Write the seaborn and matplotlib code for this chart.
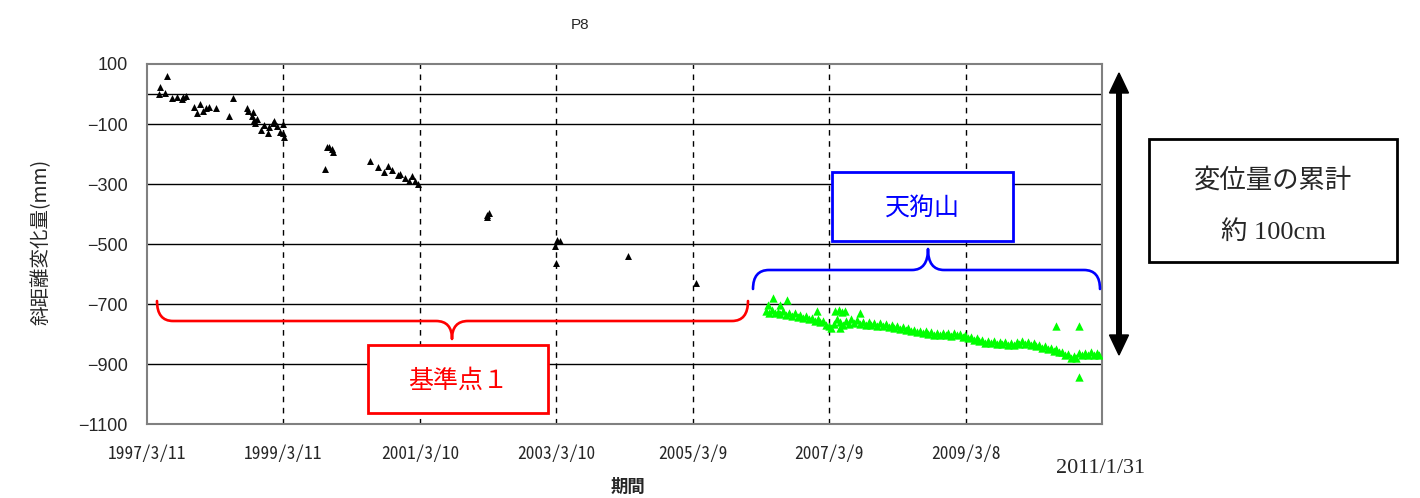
import matplotlib
matplotlib.use("Agg")
import matplotlib.pyplot as plt
import seaborn as sns
import pandas as pd
from matplotlib.path import Path
from matplotlib.patches import PathPatch, Rectangle, Polygon

# ---------------- data ----------------
title = "P8"
y_label = "斜距離変化量(mm)"
x_label = "期間"

xtick_dates = ["1997-03-11", "1999-03-11", "2001-03-10", "2003-03-10",
               "2005-03-09", "2007-03-09", "2009-03-08"]
xtick_labels = ["1997/3/11", "1999/3/11", "2001/3/10", "2003/3/10",
                "2005/3/9", "2007/3/9", "2009/3/8"]
x_end_date = "2011-03-08"
x_end_label = "2011/1/31"
yticks = [100, -100, -300, -500, -700, -900, -1100]

# 基準点1 series (black)
black_dates = [
    "1997-05-14", "1997-05-20", "1997-06-15", "1997-06-28", "1997-07-21", "1997-08-17",
    "1997-09-13", "1997-09-21", "1997-10-04", "1997-11-18", "1997-12-02", "1997-12-20",
    "1998-01-06", "1998-01-21", "1998-02-06", "1998-03-15", "1998-05-25", "1998-06-16",
    "1998-08-27", "1998-09-04", "1998-09-22", "1998-10-01", "1998-10-06", "1998-10-10",
    "1998-10-22", "1998-11-10", "1998-11-27", "1998-12-20", "1998-12-22", "1999-01-13",
    "1999-01-20", "1999-02-03", "1999-02-21", "1999-03-07", "1999-03-11", "1999-03-14",
    "1999-10-21", "1999-11-01", "1999-11-12", "1999-11-25", "1999-12-03",
    "2000-06-17", "2000-07-31", "2000-08-30", "2000-09-22", "2000-10-11", "2000-11-10",
    "2000-11-24", "2000-12-21", "2001-01-13", "2001-01-26", "2001-02-12", "2001-03-02",
    "2002-03-03", "2002-03-06", "2002-03-17",
    "2003-02-28", "2003-03-07", "2003-03-13", "2003-03-27",
    "2004-03-29", "2005-03-26",
]
black_values = [
    0, 22, 2, 60, -12, -9,
    -18, -9, -6, -42, -62, -34,
    -57, -46, -42, -48, -72, -12,
    -48, -57, -73, -61, -87, -96,
    -83, -120, -103, -131, -109, -98,
    -89, -106, -126, -131, -100, -142,
    -251, -176, -176, -184, -194,
    -223, -242, -259, -239, -253, -270,
    -267, -279, -290, -272, -290, -301,
    -409, -403, -396,
    -506, -564, -487, -489,
    -538, -629,
]

# 天狗山 series (green)
green_dates = [
    "2006-04-05", "2006-04-20", "2006-05-05", "2006-05-20", "2006-06-05", "2006-06-20",
    "2006-07-05", "2006-07-20", "2006-08-05", "2006-08-20", "2006-09-05", "2006-09-20",
    "2006-10-05", "2006-10-20", "2006-11-05", "2006-11-20", "2006-12-05", "2006-12-20",
    "2007-01-05", "2007-01-20", "2007-02-05", "2007-02-20", "2007-03-05", "2007-03-20",
    "2007-04-05", "2007-04-20", "2007-05-05", "2007-05-20", "2007-06-05", "2007-06-20",
    "2007-07-05", "2007-07-20", "2007-08-05", "2007-08-20", "2007-09-05", "2007-09-20",
    "2007-10-05", "2007-10-20", "2007-11-05", "2007-11-20", "2007-12-05", "2007-12-20",
    "2008-01-05", "2008-01-20", "2008-02-05", "2008-02-20", "2008-03-05", "2008-03-20",
    "2008-04-05", "2008-04-20", "2008-05-05", "2008-05-20", "2008-06-05", "2008-06-20",
    "2008-07-05", "2008-07-20", "2008-08-05", "2008-08-20", "2008-09-05", "2008-09-20",
    "2008-10-05", "2008-10-20", "2008-11-05", "2008-11-20", "2008-12-05", "2008-12-20",
    "2009-01-05", "2009-01-20", "2009-02-05", "2009-02-20", "2009-03-05", "2009-03-20",
    "2009-04-05", "2009-04-20", "2009-05-05", "2009-05-20", "2009-06-05", "2009-06-20",
    "2009-07-05", "2009-07-20", "2009-08-05", "2009-08-20", "2009-09-05", "2009-09-20",
    "2009-10-05", "2009-10-20", "2009-11-05", "2009-11-20", "2009-12-05", "2009-12-20",
    "2010-01-05", "2010-01-20", "2010-02-05", "2010-02-20", "2010-03-05", "2010-03-20",
    "2010-04-05", "2010-04-20", "2010-05-05", "2010-05-20", "2010-06-05", "2010-06-20",
    "2010-07-05", "2010-07-20", "2010-08-05", "2010-08-20", "2010-09-05", "2010-09-20",
    "2010-10-05", "2010-10-20", "2010-11-05", "2010-11-20", "2010-12-05", "2010-12-20",
    "2011-01-05", "2011-01-20", "2011-02-05", "2011-02-18",
    # scattered high / low readings
    "2006-04-15", "2006-05-14", "2006-06-19", "2006-07-24", "2007-01-01",
    "2007-04-10", "2007-04-28", "2007-05-15", "2007-05-30", "2007-05-05",
    "2007-08-18", "2010-07-04", "2010-11-05", "2010-11-06",
]
green_values = [
    -722, -728, -718, -730, -725, -733,
    -722, -735, -728, -738, -730, -742,
    -735, -745, -740, -750, -745, -755,
    -750, -760, -755, -768, -772, -780,
    -765, -748, -760, -770, -755, -765,
    -750, -762, -752, -765, -758, -768,
    -760, -770, -762, -772, -763, -772,
    -765, -775, -768, -778, -772, -782,
    -775, -785, -780, -790, -785, -793,
    -788, -797, -790, -800, -792, -801,
    -795, -803, -796, -803, -797, -805,
    -796, -804, -798, -808, -804, -812,
    -810, -818, -814, -823, -818, -828,
    -822, -830, -824, -833, -826, -834,
    -827, -835, -828, -836, -826, -834,
    -822, -832, -826, -835, -830, -840,
    -835, -845, -840, -850, -845, -855,
    -850, -860, -858, -868, -865, -878,
    -872, -880, -862, -870, -862, -870,
    -860, -868, -862, -870,
    -703, -681, -703, -687, -723,
    -723, -720, -725, -722, -778,
    -730, -773, -773, -942,
]

# ---------------- figure ----------------
sns.set_style("white")
plt.rcParams["font.family"] = ["Noto Sans CJK JP", "DejaVu Sans"]
plt.rcParams["axes.unicode_minus"] = True

W, H = 1420, 498
fig = plt.figure(figsize=(W / 100, H / 100), dpi=100)
L, R, T, B = 147, 1102.3, 64, 424.3
ax = fig.add_axes([L / W, 1 - B / H, (R - L) / W, (B - T) / H])

df_b = pd.DataFrame({"date": pd.to_datetime(black_dates), "value": black_values})
df_g = pd.DataFrame({"date": pd.to_datetime(green_dates), "value": green_values})

sns.scatterplot(data=df_g, x="date", y="value", marker="^", color="#00ff00",
                s=36, linewidth=0, ax=ax, zorder=3)
sns.scatterplot(data=df_b, x="date", y="value", marker="^", color="black",
                s=25, linewidth=0, ax=ax, zorder=4)

ax.set_xlim(pd.Timestamp(xtick_dates[0]), pd.Timestamp(x_end_date))
ax.set_ylim(min(yticks), max(yticks))
ax.set_yticks(yticks)
ax.set_yticklabels([f"{v}".replace("-", "\u2212") for v in yticks],
                   family=["Liberation Sans", "DejaVu Sans"], fontsize=13)
xt = pd.to_datetime(xtick_dates)
ax.set_xticks(xt)
ax.set_xticklabels(xtick_labels, family=["Noto Sans Mono CJK JP", "DejaVu Sans Mono"],
                   fontsize=12.5)
ax.set_xlabel("")
ax.set_ylabel("")

for d in xt[1:]:
    ax.axvline(d, color="black", lw=1.0, ls=(0, (4, 4)), zorder=1)
for v in yticks[1:-1] + [0]:
    ax.axhline(v, color="black", lw=1.0, zorder=1)

for sp in ax.spines.values():
    sp.set_color("#808080")
    sp.set_linewidth(1.5)
ax.tick_params(axis="x", direction="in", length=4, width=1, color="black", pad=15)
ax.tick_params(axis="y", direction="out", length=4, width=1, color="#808080", pad=10)

# ---------------- overlay annotations ----------------
ov = fig.add_axes([0, 0, 1, 1], zorder=5)
ov.set_xlim(0, W)
ov.set_ylim(H, 0)
ov.axis("off")
ov.patch.set_alpha(0)


def brace(x0, x1, xm, y_end, y_line, y_tip, r, color):
    verts = [(x0, y_end), (x0, y_line), (x0 + r, y_line),
             (xm - r, y_line), (xm, y_line), (xm, y_tip),
             (xm, y_line), (xm + r, y_line),
             (x1 - r, y_line), (x1, y_line), (x1, y_end)]
    codes = [Path.MOVETO, Path.CURVE3, Path.CURVE3,
             Path.LINETO, Path.CURVE3, Path.CURVE3,
             Path.CURVE3, Path.CURVE3,
             Path.LINETO, Path.CURVE3, Path.CURVE3]
    ov.add_patch(PathPatch(Path(verts, codes), fill=False, edgecolor=color,
                           lw=1.9, capstyle="round", joinstyle="round"))


brace(157, 748, 452, 301, 321, 339, 16, "#ff0000")
brace(753, 1100, 928, 289, 270, 249, 16, "#0000ff")

ov.add_patch(Rectangle((368, 345), 180, 68, facecolor="white", edgecolor="#ff0000", lw=2.0))
ov.text(458, 381, "基準点１", color="#ff0000", fontsize=18, ha="center", va="center")

ov.add_patch(Rectangle((832, 172), 181, 69, facecolor="white", edgecolor="#0000ff", lw=2.0))
ov.text(922, 209, "天狗山", color="#0000ff", fontsize=18, ha="center", va="center")

ov.add_patch(Rectangle((1149, 139), 248, 123, facecolor="white", edgecolor="black", lw=2.0))
ov.text(1273, 180, "変位量の累計", fontsize=19, ha="center", va="center")
ov.text(1273, 232, "約 100cm", fontsize=19, ha="center", va="center",
        family=["Liberation Serif", "Noto Sans CJK JP"])

# double-headed arrow
ov.plot([1119, 1119], [90, 338], color="black", lw=4.3, solid_capstyle="butt")
ov.add_patch(Polygon([(1119, 73), (1109.5, 93), (1128.5, 93)], closed=True, color="black"))
ov.add_patch(Polygon([(1119, 355), (1109.5, 335), (1128.5, 335)], closed=True, color="black"))

ov.text(1101, 468, x_end_label, fontsize=16, ha="center", va="center",
        family=["Liberation Serif", "DejaVu Serif"])
ov.text(580, 25, title, fontsize=11, ha="center", va="center",
        family=["Liberation Sans", "DejaVu Sans"])
ov.text(41, 242, y_label, fontsize=14, rotation=90, ha="center", va="center")
ov.text(628, 487, x_label, fontsize=12.5, fontweight="bold", ha="center", va="center")

fig.savefig("out.png", dpi=100)
